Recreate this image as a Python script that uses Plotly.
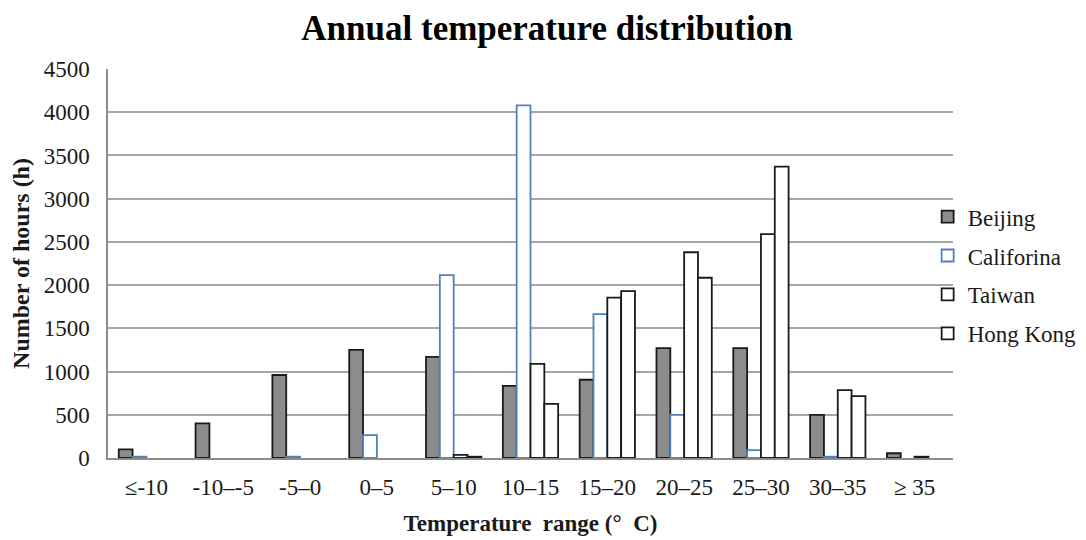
import plotly.graph_objects as go

categories = ["≤-10", "-10–-5", "-5–0", "0–5", "5–10", "10–15", "15–20", "20–25", "25–30", "30–35", "≥ 35"]
beijing = [100, 400, 960, 1250, 1170, 835, 905, 1270, 1270, 500, 55]
california = [15, None, 15, 265, 2115, 4080, 1665, 500, 90, 15, None]
taiwan = [None, None, None, None, 35, 1090, 1855, 2380, 2590, 785, 15]
hongkong = [None, None, None, None, 15, 625, 1930, 2085, 3370, 715, None]

series = [
    ("Beijing", beijing, "#8c8c8c", "#1a1a1a"),
    ("Califorina", california, "#ffffff", "#4f81bd"),
    ("Taiwan", taiwan, "#ffffff", "#1a1a1a"),
    ("Hong Kong", hongkong, "#ffffff", "#1a1a1a"),
]

fig = go.Figure()
for name, vals, fill, line in series:
    fig.add_trace(go.Bar(
        x=categories, y=vals, name=name, legendgroup=name,
        marker=dict(color=fill, line=dict(color=line, width=1.8)),
    ))

serif = "Liberation Serif"
fig.update_layout(
    width=1078, height=532,
    paper_bgcolor="white", plot_bgcolor="white",
    margin=dict(l=100, r=133, t=61, b=82, autoexpand=False),
    font=dict(family=serif, size=23, color="#1a1a1a"),
    title=dict(text="<b>Annual temperature distribution</b>", x=0.5, xanchor="center",
               y=1 - 20 / 532, yanchor="middle", font=dict(family=serif, size=35, color="black")),
    bargap=0.28, bargroupgap=0,
    legend=dict(x=0.970, xanchor="left", y=0.47, yanchor="middle", tracegroupgap=6,
                font=dict(family=serif, size=23, color="#1a1a1a"), bgcolor="rgba(0,0,0,0)"),
    showlegend=True,
)
fig.update_xaxes(
    showline=True, linecolor="#8c8c8c", linewidth=1.5, showgrid=False, ticks="",
    tickfont=dict(family=serif, size=23), automargin=False, ticklabelstandoff=8,
    title=dict(text="<b>Temperature  range (°  C)</b>", font=dict(family=serif, size=23), standoff=16),
)
fig.update_yaxes(
    range=[0, 4500], dtick=500, showline=True, linecolor="#8c8c8c", linewidth=1.5,
    showgrid=True, gridcolor="#a6a6a6", gridwidth=1.5, zeroline=False, ticks="",
    tickfont=dict(family=serif, size=23), automargin=False, ticklabelstandoff=12,
    title=dict(text="<b>Number of hours (h)</b>", font=dict(family=serif, size=24), standoff=10),
)
fig.write_html("out.html")
